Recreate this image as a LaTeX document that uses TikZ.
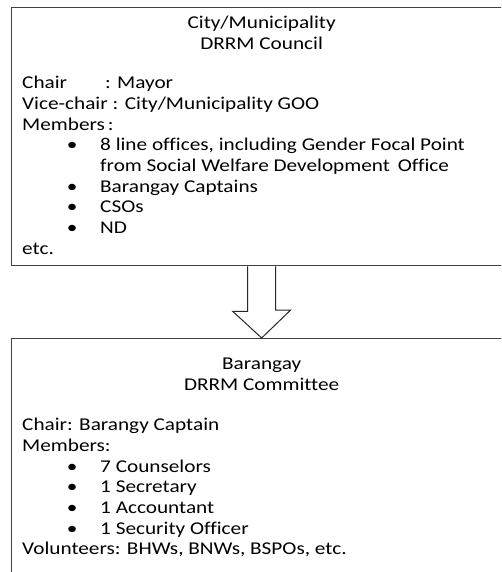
\documentclass[tikz,border=0pt]{standalone}
\usepackage{fontspec}
\setmainfont[FakeStretch=1.18,Ligatures=NoCommon]{Carlito}
\usetikzlibrary{positioning}

\tikzset{
  orgbox/.style={draw=black!75, line width=1.3pt, minimum width=500pt, minimum height=258pt, anchor=north west, inner sep=0pt},
  orgtitle/.style={align=center, inner sep=0pt, anchor=north, font=\fontsize{18}{20.7}\selectfont},
  orgbody/.style={align=left, inner sep=0pt, anchor=north west, font=\fontsize{18}{20.7}\selectfont},
  hollowarrow/.style={draw=black!85, line width=1pt, fill=white, line join=miter}
}
\newcommand{\orgitem}[1]{\hspace*{50pt}\makebox[0pt]{\textbullet}\hspace*{28pt}#1}
\newcommand{\orgcont}[1]{\hspace*{78pt}#1}

\begin{document}
\begin{tikzpicture}[x=1pt,y=1pt]
  \useasboundingbox (0,0) rectangle (501,-572);
  \clip (0,0) rectangle (501,-572);
  % the two levels
  \node[orgbox] (council) at (11,-7) {};
  \node[orgbox] (committee) at (11,-338) {};
  \node[orgtitle, below=9pt of council.north] (counciltitle) {City/Municipality\\DRRM Council};
  \node[orgbody] (councilbody) at ([xshift=11pt,yshift=-69pt]council.north west)
    {Chair\hspace{38pt}: Mayor\\
     Vice-chair\hspace{5pt}: City/Municipality GOO\\
     Members\hspace{3pt}:\\
     \orgitem{8 line offices, including Gender Focal Point}\\
     \orgcont{from Social Welfare Development\, Office}\\
     \orgitem{Barangay Captains}\\
     \orgitem{CSOs}\\
     \orgitem{ND}\\
     etc.};
  \node[orgtitle, below=20pt of committee.north] (committeetitle) {Barangay\\DRRM Committee};
  \node[orgbody] (committeebody) at ([xshift=11pt,yshift=-80pt]committee.north west)
    {Chair: Barangy Captain\\
     Members:\\
     \orgitem{7 Counselors}\\
     \orgitem{1 Secretary}\\
     \orgitem{1 Accountant}\\
     \orgitem{1 Security Officer}\\
     Volunteers: BHWs, BNWs, BSPOs, etc.};
  % hollow arrow between them
  \draw[hollowarrow] ([xshift=-14pt]council.south) -- ++(0,-45) -- ++(-15,0)
    -- (committee.north) -- ++(29,28) -- ++(-15,0) -- ([xshift=14pt]council.south);
\end{tikzpicture}
\end{document}
